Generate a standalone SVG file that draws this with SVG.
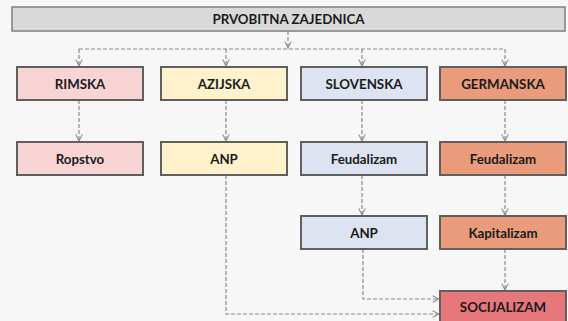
<svg xmlns="http://www.w3.org/2000/svg" width="568" height="321" viewBox="0 0 568 321">
<defs>
<marker id="arr" viewBox="0 0 10 10" refX="9" refY="5" markerWidth="8" markerHeight="8" orient="auto" markerUnits="userSpaceOnUse">
<path d="M1,1 L9,5 L1,9" fill="none" stroke="#8a8a8a" stroke-width="1.3"/>
</marker>
</defs>
<style>
.bg{fill:#f7f7f7}
.box{stroke:#5f5f5f;stroke-width:2}
.top{fill:#d9d9d9;stroke:#7f7f7f;stroke-width:1.5}
.t{font-family:"Lato","Open Sans","Liberation Sans",sans-serif;font-weight:bold;font-size:13.3px;fill:#1a1a1a;text-anchor:middle;dominant-baseline:central}
.c{fill:none;stroke:#8a8a8a;stroke-width:1.2;stroke-dasharray:4 2}
.pink{fill:#f9d4d4}
.yel{fill:#fff2cc}
.blu{fill:#dde3f1}
.sal{fill:#e99b7b}
.red{fill:#e6777b}
</style>
<rect class="bg" x="0" y="0" width="568" height="321"/>
<g id="connectors">
<path class="c" d="M288,31 V48" marker-end="url(#arr)"/>
<path class="c" d="M79,49 H505"/>
<path class="c" d="M79,49 V66" marker-end="url(#arr)"/>
<path class="c" d="M226,49 V66" marker-end="url(#arr)"/>
<path class="c" d="M362,49 V66" marker-end="url(#arr)"/>
<path class="c" d="M505,49 V66" marker-end="url(#arr)"/>
<path class="c" d="M79,100 V141" marker-end="url(#arr)"/>
<path class="c" d="M226,100 V141" marker-end="url(#arr)"/>
<path class="c" d="M362,100 V141" marker-end="url(#arr)"/>
<path class="c" d="M505,100 V141" marker-end="url(#arr)"/>
<path class="c" d="M362,175 V215" marker-end="url(#arr)"/>
<path class="c" d="M505,175 V215" marker-end="url(#arr)"/>
<path class="c" d="M505,249 V290" marker-end="url(#arr)"/>
<path class="c" d="M363,249 V299 H439" marker-end="url(#arr)"/>
<path class="c" d="M226,175 V314 H439" marker-end="url(#arr)"/>
</g>
<g id="n-prvobitna"><rect class="top" x="12" y="7" width="553" height="24"/><text class="t" x="288.5" y="19">PRVOBITNA ZAJEDNICA</text></g>
<g id="n-rimska"><rect class="box pink" x="17" y="67" width="126" height="33"/><text class="t" x="80" y="83.5">RIMSKA</text></g>
<g id="n-azijska"><rect class="box yel" x="161" y="67" width="126" height="33"/><text class="t" x="224" y="83.5">AZIJSKA</text></g>
<g id="n-slovenska"><rect class="box blu" x="301" y="67" width="126" height="33"/><text class="t" x="364" y="83.5">SLOVENSKA</text></g>
<g id="n-germanska"><rect class="box sal" x="440" y="67" width="126" height="33"/><text class="t" x="503" y="83.5">GERMANSKA</text></g>
<g id="n-ropstvo"><rect class="box pink" x="17" y="142" width="126" height="33"/><text class="t" x="80" y="158.5">Ropstvo</text></g>
<g id="n-anp1"><rect class="box yel" x="161" y="142" width="126" height="33"/><text class="t" x="224" y="158.5">ANP</text></g>
<g id="n-feud1"><rect class="box blu" x="301" y="142" width="126" height="33"/><text class="t" x="364" y="158.5">Feudalizam</text></g>
<g id="n-feud2"><rect class="box sal" x="440" y="142" width="126" height="33"/><text class="t" x="503" y="158.5">Feudalizam</text></g>
<g id="n-anp2"><rect class="box blu" x="301" y="216" width="126" height="33"/><text class="t" x="364" y="232.5">ANP</text></g>
<g id="n-kapitalizam"><rect class="box sal" x="440" y="216" width="126" height="33"/><text class="t" x="503" y="232.5">Kapitalizam</text></g>
<g id="n-socijalizam"><rect class="box red" x="440" y="291" width="126" height="33"/><text class="t" x="503" y="307">SOCIJALIZAM</text></g>
</svg>
